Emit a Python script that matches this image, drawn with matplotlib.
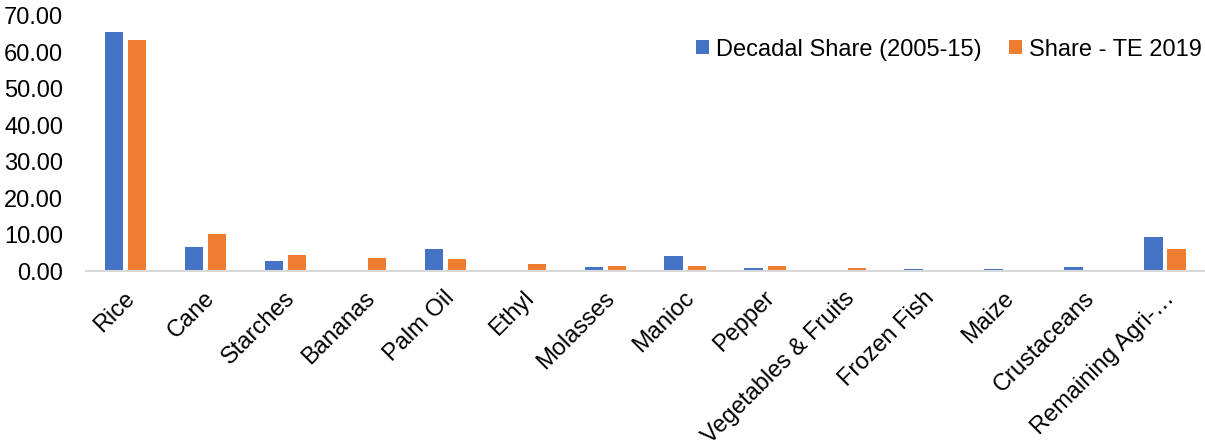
import numpy as np
import matplotlib.pyplot as plt
from matplotlib.transforms import ScaledTranslation

plt.rcParams['font.family'] = ['Liberation Sans', 'DejaVu Sans']

categories = ['Rice', 'Cane', 'Starches', 'Bananas', 'Palm Oil', 'Ethyl', 'Molasses',
              'Manioc', 'Pepper', 'Vegetables & Fruits', 'Frozen Fish', 'Maize',
              'Crustaceans', 'Remaining Agri-\u2026']
decadal = [65.5, 6.6, 2.7, 0.0, 5.9, 0.0, 1.1, 4.1, 0.8, 0.0, 0.55, 0.55, 1.0, 9.3]
te2019 = [63.2, 10.1, 4.5, 3.7, 3.3, 1.9, 1.5, 1.5, 1.3, 0.7, 0.0, 0.0, 0.0, 6.1]

blue = '#4472C4'
orange = '#ED7D31'
fs = 17

fig = plt.figure(figsize=(12.05, 4.45), dpi=100)
ax = fig.add_axes([0.071, 0.391, 0.929, 0.574])

x = np.arange(len(categories))
w = 0.23
ax.bar(x - 0.145, decadal, w, color=blue, label='Decadal Share (2005-15)')
ax.bar(x + 0.145, te2019, w, color=orange, label='Share - TE 2019')

ax.set_xlim(-0.5, len(categories) - 0.5)
ax.set_ylim(0, 70)
ax.set_yticks(np.arange(0, 71, 10))
ax.set_yticklabels(['%.2f' % v for v in np.arange(0, 71, 10)], fontsize=fs)
ax.set_xticks(x)
ax.set_xticklabels(categories, rotation=45, ha='right', rotation_mode='anchor', fontsize=fs)
ax.tick_params(axis='x', length=0, pad=8)
ax.tick_params(axis='y', length=0, pad=16)
# nudge the slanted labels down a little, like Excel places them
for lbl in ax.get_xticklabels():
    lbl.set_transform(lbl.get_transform() + ScaledTranslation(-0.02, -0.05, fig.dpi_scale_trans))

for s in ['top', 'right', 'left']:
    ax.spines[s].set_visible(False)
ax.spines['bottom'].set_color('#d9d9d9')
ax.spines['bottom'].set_linewidth(1.5)

ax.legend(loc='upper right', bbox_to_anchor=(1.01, 0.965), ncol=2, frameon=False, fontsize=fs,
          handlelength=0.55, handleheight=0.55, handletextpad=0.3, columnspacing=1.15,
          borderaxespad=0.2)

plt.savefig('out.png', dpi=100)
